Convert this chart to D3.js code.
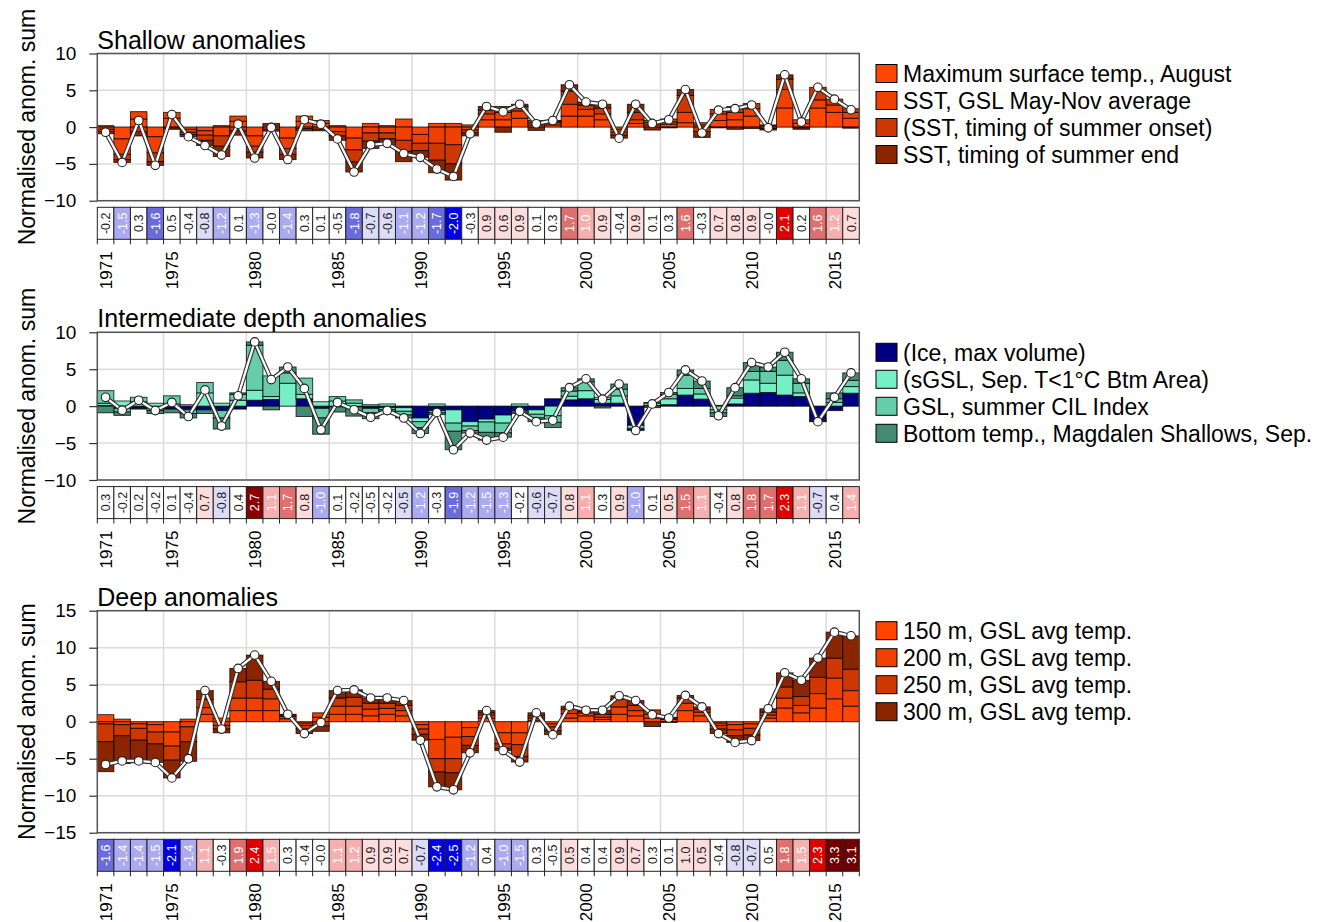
<!DOCTYPE html>
<html>
<head>
<meta charset="utf-8">
<script src="https://cdn.jsdelivr.net/npm/d3@7"></script>
<style>
  body { margin: 0; background: #fff; }
  svg text { font-family: "Liberation Sans", Arial, Helvetica, sans-serif; fill: #000; }
</style>
</head>
<body>
<svg id="chart" width="1325" height="922"></svg>
<script>
// ---------------- data ----------------
const years = d3.range(1971, 2017);

// Shallow anomalies (normalised anomalies of each index)
const shallowNames = ["Maximum surface temp., August", "SST, GSL May-Nov average",
  "(SST, timing of summer onset)", "SST, timing of summer end"];
const shallowMaxAug = [0.2,-1.6,1.1,-1.3,1.2,-0.3,-0.5,0.2,0.8,-1.2,0.3,-1.5,0.8,0.5,0.2,-1.5,0.5,0.2,1.1,-1.0,0.5,0.5,0.3,
  1.0,1.0,1.2,0.3,0.3,1.5,1.5,1.0,-0.3,0.5,0.3,0.4,0.6,0.3,0.9,1.0,1.5,0.2,2.6,0.5,2.6,2.0,1.2];
const shallowSstMayNov = [-0.3,-2.1,1.0,-2.2,0.8,-0.4,-0.6,-1.2,0.7,-1.4,0.2,-1.4,0.7,0.4,-0.6,-1.6,-0.8,-0.8,-1.8,-1.2,-2.2,-2.4,-0.4,
  0.8,1.0,1.0,0.3,0.3,1.6,0.9,0.8,-0.4,0.5,0.3,0.3,1.4,0.3,0.9,1.0,1.0,0.1,2.5,0.5,1.1,1.0,0.8];
const shallowOnset = [-0.3,-0.7,-0.6,-1.2,-0.1,-0.3,-0.7,-1.4,-0.5,-0.8,-0.3,-0.8,-0.2,-0.3,-0.6,-1.6,-1.1,-0.8,-1.5,-1.0,-2.3,-2.6,-0.4,
  0.5,0.8,0.6,0.3,0.2,1.8,0.6,0.8,-0.4,1.0,0.3,0.4,2.3,-0.6,0.6,0.8,0.7,-0.2,1.4,-0.1,1.7,0.8,0.5];
const shallowEnd = [-0.3,-0.4,-0.6,-0.5,-0.2,-0.3,-0.7,-1.4,-0.6,-0.8,-0.25,-0.7,-0.3,-0.2,-0.6,-1.4,-1.0,-0.8,-1.4,-0.9,-1.7,-2.2,-0.4,
  0.5,-0.7,0.3,-0.45,0.1,0.85,0.4,0.5,-0.4,1.1,-0.4,-0.1,0.8,-0.8,-0.1,-0.3,-0.2,-0.2,0.6,-0.2,0.0,0.0,-0.15];
const shallowScore = [-0.2,-1.48,0.3,-1.6,0.47,-0.4,-0.8,-1.2,0.1,-1.3,-0.04,-1.4,0.3,0.1,-0.47,-1.8,-0.7,-0.6,-1.1,-1.2,-1.7,-2.03,-0.3,
  0.9,0.6,0.9,0.1,0.3,1.7,1.0,0.9,-0.4,0.9,0.1,0.3,1.6,-0.3,0.7,0.8,0.9,-0.02,2.1,0.2,1.6,1.2,0.7];

// Intermediate depth anomalies
const interNames = ["(Ice, max volume)", "(sGSL, Sep. T<1°C Btm Area)",
  "GSL, summer CIL Index", "Bottom temp., Magdalen Shallows, Sep."];
const interIce = [0.1,-0.3,-0.3,-0.2,-0.4,-0.5,-0.5,-0.6,-0.4,0.8,0.9,0.0,1.0,-0.3,-0.1,-0.1,-0.3,-0.2,-0.2,-1.6,-0.6,-0.5,-2.1,
  -1.75,-1.2,-0.6,-0.5,1.0,0.85,1.0,0.4,0.4,-2.6,0.1,0.2,1.5,0.95,0.1,0.3,1.75,1.85,1.5,1.3,-1.85,-0.6,1.75];
const interSgslArea = [0.3,0.7,0.6,0.4,0.3,0.2,1.8,0.4,0.8,1.35,0.4,3.1,0.6,0.6,0.7,0.4,0.2,0.3,-0.5,-0.5,0.3,-1.8,-0.6,
  -0.4,-1.1,0.3,-0.6,-1.3,0.5,1.1,0.5,1.0,-0.4,0.3,0.8,0.9,0.7,-0.5,0.8,1.8,1.25,2.7,0.5,-0.1,0.5,0.9];
const interCil = [1.7,-0.5,0.6,-0.4,1.1,-0.5,1.4,-1.0,0.8,6.1,2.8,1.4,2.2,-1.3,0.6,0.45,-0.6,-0.3,-0.5,-0.8,-0.3,-1.1,-0.6,
  -1.4,-1.3,-0.2,-0.5,-0.9,0.7,1.2,0.3,0.9,-0.15,0.1,0.6,1.8,0.75,-0.4,0.3,1.15,1.6,2.0,1.3,-0.1,0.5,0.85];
const interBottom = [-0.9,-0.45,-0.1,-0.4,-0.5,-0.6,-0.5,-1.5,0.2,0.45,-0.5,0.8,-1.4,-2.2,-0.7,-1.25,-0.8,-0.4,-0.4,-0.8,-0.25,-2.5,-0.35,
  -1.05,-0.6,-0.2,-0.5,-0.7,0.45,0.4,-0.25,0.7,-0.15,-0.2,0.25,0.7,1.0,-0.5,1.1,1.2,0.6,1.1,0.6,-0.05,0.8,1.0];
const interScore = [0.3,-0.2,0.2,-0.2,0.1,-0.4,0.7,-0.8,0.4,2.7,1.1,1.7,0.8,-1.0,0.1,-0.2,-0.47,-0.2,-0.53,-1.2,-0.3,-1.9,-1.2,
  -1.48,-1.3,-0.2,-0.6,-0.7,0.8,1.1,0.3,0.9,-1.0,0.1,0.53,1.53,1.1,-0.4,0.8,1.8,1.7,2.3,1.1,-0.7,0.4,1.4];

// Deep anomalies
const deepNames = ["150 m, GSL avg temp.", "200 m, GSL avg temp.", "250 m, GSL avg temp.", "300 m, GSL avg temp."];
const deep150 = [0.95,0.35,-0.3,-0.4,-1.4,0.35,1.0,0.5,1.5,1.5,1.5,0.4,-0.2,0.6,1.0,1.0,0.8,1.0,0.8,-0.4,-2.4,-2.1,-0.8,
  0.5,-1.5,-1.5,0.2,-0.3,0.5,0.8,0.3,1.0,0.8,0.5,0.3,1.5,0.8,-0.2,-0.4,-0.3,0.5,1.85,1.2,1.85,3.1,2.1];
const deep200 = [-0.3,-0.4,-0.6,-1.0,-1.9,-0.7,0.9,-0.5,1.7,1.7,1.6,0.3,-0.3,0.6,1.1,1.1,0.9,0.8,0.7,-0.6,-2.6,-2.9,-1.2,
  0.4,-1.5,-1.6,0.3,-0.4,0.6,0.4,0.3,1.0,0.7,0.5,0.2,1.0,0.5,-0.3,-0.7,-0.6,0.4,1.35,1.0,1.95,2.8,2.1];
const deep250 = [-2.4,-1.5,-1.6,-1.6,-1.9,-2.0,1.1,-0.5,2.2,2.4,1.3,0.2,-0.5,-0.6,1.1,1.2,0.8,0.7,0.7,-0.7,-1.8,-1.9,-1.2,
  0.3,-0.6,-1.6,0.3,-0.5,0.6,0.2,0.4,1.0,0.7,0.6,0.1,0.7,0.4,-0.5,-0.8,-0.9,0.4,1.5,1.2,2.2,2.7,2.9];
const deep300 = [-4.05,-3.75,-2.8,-2.5,-2.4,-2.65,1.2,-0.5,1.8,3.4,1.05,0.1,-0.6,-0.7,1.0,1.0,0.7,0.7,0.65,-0.8,-2.0,-2.3,-1.0,
  0.3,-0.3,-0.75,0.4,-0.55,0.4,0.15,0.55,0.5,0.65,-0.65,-0.1,0.35,0.3,-0.6,-0.9,-0.75,0.45,1.9,2.2,2.6,3.5,4.5];
const deepScore = [-1.6,-1.4,-1.4,-1.48,-2.1,-1.4,1.1,-0.3,1.9,2.4,1.47,0.3,-0.4,-0.04,1.1,1.2,0.9,0.9,0.7,-0.7,-2.4,-2.45,-1.2,
  0.4,-1.0,-1.48,0.3,-0.47,0.53,0.4,0.4,0.9,0.7,0.3,0.1,0.97,0.53,-0.4,-0.8,-0.7,0.47,1.8,1.47,2.3,3.3,3.1];

const yearTicks = [1971, 1975, 1980, 1985, 1990, 1995, 2000, 2005, 2010, 2015];

// ---------------- styling ----------------
const orangeReds = ["#FF4500", "#EE4000", "#CD3700", "#8B2500"];
const aquas = ["#000080", "#76EEC6", "#66CDAA", "#458B74"];

const panels = [
  { title: "Shallow anomalies", top: 53.5, bottom: 200.7, domain: [-10, 10], ticks: [-10, -5, 0, 5, 10],
    names: shallowNames, colors: orangeReds,
    series: [shallowMaxAug, shallowSstMayNov, shallowOnset, shallowEnd], score: shallowScore },
  { title: "Intermediate depth anomalies", top: 332.3, bottom: 480, domain: [-10, 10], ticks: [-10, -5, 0, 5, 10],
    names: interNames, colors: aquas,
    series: [interIce, interSgslArea, interCil, interBottom], score: interScore },
  { title: "Deep anomalies", top: 610.7, bottom: 832.7, domain: [-15, 15], ticks: [-15, -10, -5, 0, 5, 10, 15],
    names: deepNames, colors: orangeReds,
    series: [deep150, deep200, deep250, deep300], score: deepScore }
];

const xLeft = 97.3, xRight = 859.3;
const x = d3.scaleBand().domain(years).range([xLeft, xRight]).padding(0);
const bw = x.bandwidth();

// discrete scorecard colour scale in half-standard-deviation steps
const scoreColor = d3.scaleThreshold()
  .domain([-2.5, -2.0, -1.5, -1.0, -0.5, 0.5, 1.0, 1.5, 2.0, 2.5, 3.0])
  .range(["#00008B", "#0000E6", "#6B6BE0", "#AAAAF2", "#DCDCF8", "#FFFFFF",
          "#FDDCDC", "#F5AFAF", "#E07070", "#E00000", "#8B0000", "#700000"]);
// values sitting exactly on a lower edge belong to the bin below it
function cellFill(v) {
  if (v <= -2.0 && v > -2.5) return "#0000E6";
  if (v <= -1.5 && v > -2.0) return "#6B6BE0";
  if (v <= -1.0 && v > -1.5) return "#AAAAF2";
  return scoreColor(v);
}

const svg = d3.select("#chart");

panels.forEach(p => {
  const y = d3.scaleLinear().domain(p.domain).range([p.bottom, p.top]);
  const g = svg.append("g");

  // grid
  g.append("g").selectAll("line.h").data(p.ticks).join("line")
    .attr("x1", xLeft).attr("x2", xRight)
    .attr("y1", d => y(d)).attr("y2", d => y(d))
    .attr("stroke", "#dcdcdc").attr("stroke-width", 1.5);
  g.append("g").selectAll("line.v").data(yearTicks.slice(1)).join("line")
    .attr("x1", d => x(d)).attr("x2", d => x(d))
    .attr("y1", p.top).attr("y2", p.bottom)
    .attr("stroke", "#dcdcdc").attr("stroke-width", 1.5);

  // stacked bars (positive parts up, negative parts down)
  const rows = years.map((yr, i) => {
    const r = { year: yr };
    p.series.forEach((s, k) => r["s" + k] = s[i]);
    return r;
  });
  const keys = p.series.map((s, k) => "s" + k);
  const stacked = d3.stack().keys(keys).offset(d3.stackOffsetDiverging)(rows);
  g.append("g").selectAll("g").data(stacked).join("g")
    .attr("fill", (d, k) => p.colors[k])
    .selectAll("rect").data(d => d).join("rect")
    .attr("x", d => x(d.data.year))
    .attr("width", bw)
    .attr("y", d => y(Math.max(d[0], d[1])))
    .attr("height", d => Math.abs(y(d[0]) - y(d[1])))
    .attr("stroke", "rgba(0,0,0,0.75)").attr("stroke-width", 1);

  // sum line
  const sums = years.map((yr, i) => ({ year: yr, v: d3.sum(p.series, s => s[i]) }));
  const line = d3.line().x(d => x(d.year) + bw / 2).y(d => y(d.v));
  g.append("path").datum(sums).attr("d", line)
    .attr("fill", "none").attr("stroke", "#333").attr("stroke-width", 4.5).attr("stroke-linejoin", "round");
  g.append("path").datum(sums).attr("d", line)
    .attr("fill", "none").attr("stroke", "#fff").attr("stroke-width", 2.2).attr("stroke-linejoin", "round");
  g.append("g").selectAll("circle").data(sums).join("circle")
    .attr("cx", d => x(d.year) + bw / 2).attr("cy", d => y(d.v)).attr("r", 4.3)
    .attr("fill", "#fff").attr("stroke", "#222").attr("stroke-width", 1.1);

  // frame
  g.append("rect").attr("x", xLeft).attr("y", p.top)
    .attr("width", xRight - xLeft).attr("height", p.bottom - p.top)
    .attr("fill", "none").attr("stroke", "#555").attr("stroke-width", 1.5);

  // y axis
  const yAxis = g.append("g").attr("transform", `translate(${xLeft},0)`)
    .call(d3.axisLeft(y).tickValues(p.ticks).tickSize(8).tickPadding(13).tickFormat(d3.format("d")));
  yAxis.select(".domain").remove();
  yAxis.selectAll("line").attr("stroke", "#333").attr("stroke-width", 1.2);
  yAxis.selectAll("text").attr("font-size", 19).attr("font-family", "Liberation Sans, Arial, sans-serif");

  g.append("text")
    .attr("transform", `translate(35,${(p.top + p.bottom) / 2}) rotate(-90)`)
    .attr("text-anchor", "middle").attr("font-size", 23)
    .text("Normalised anom. sum");

  // title
  g.append("text").attr("x", xLeft).attr("y", p.top - 5)
    .attr("font-size", 25).text(p.title);

  // legend
  const lg = g.append("g");
  p.names.forEach((name, k) => {
    const cy = p.top + 20 + 27 * k;
    lg.append("rect").attr("x", 876).attr("y", cy - 9).attr("width", 21).attr("height", 18)
      .attr("fill", p.colors[k]).attr("stroke", "#000").attr("stroke-width", 1);
    lg.append("text").attr("x", 903).attr("y", cy).attr("dy", "0.36em")
      .attr("font-size", 23).text(name);
  });

  // scorecard row
  const sTop = p.bottom + 6.6, sH = 32;
  const cells = g.append("g");
  cells.selectAll("rect").data(p.score).join("rect")
    .attr("x", (d, i) => x(years[i])).attr("y", sTop)
    .attr("width", bw).attr("height", sH)
    .attr("fill", d => cellFill(d)).attr("stroke", "#222").attr("stroke-width", 1);
  cells.selectAll("text").data(p.score).join("text")
    .attr("transform", (d, i) => `translate(${x(years[i]) + bw / 2},${sTop + sH / 2}) rotate(-90)`)
    .attr("text-anchor", "middle").attr("dy", "0.36em")
    .attr("font-size", 12.5)
    .style("fill", d => Math.abs(d) >= 1 ? "#fff" : "#222")
    .text(d => d.toFixed(1));

  // year ticks under the scorecard
  const sBottom = sTop + sH;
  g.append("g").selectAll("line").data(d3.range(years.length + 1)).join("line")
    .attr("x1", i => xLeft + i * bw).attr("x2", i => xLeft + i * bw)
    .attr("y1", sBottom).attr("y2", sBottom + 5)
    .attr("stroke", "#222").attr("stroke-width", 1);
  g.append("g").selectAll("text").data(yearTicks).join("text")
    .attr("transform", d => `translate(${x(d) + bw / 2 + 6.5},${sBottom + 12}) rotate(-90)`)
    .attr("text-anchor", "end").attr("font-size", 17)
    .text(d => d);
});
</script>
</body>
</html>
